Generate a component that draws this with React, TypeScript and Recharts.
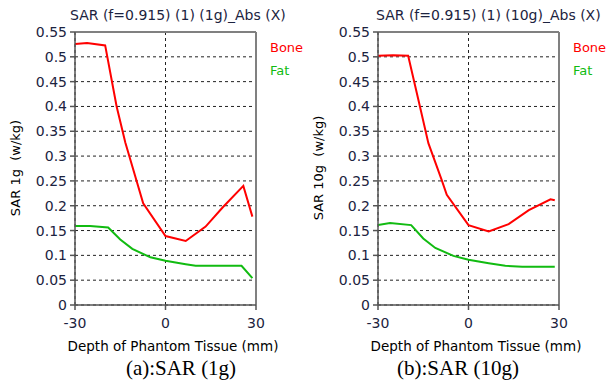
import { LineChart, Line, XAxis, YAxis, CartesianGrid, ReferenceLine, Legend } from "recharts";

// depth (mm) and SAR (w/kg)
const boneDepth1g = [-30, -26, -20, -16.2, -13.3, -7.4, 0, 6.7, 13.3, 19, 25.8, 28.8];
const bone1g = [0.526, 0.528, 0.523, 0.4, 0.327, 0.205, 0.139, 0.129, 0.158, 0.197, 0.24, 0.178];
const fatDepth1g = [-30, -25, -19, -15, -11, -5, 0, 6.7, 10, 25.2, 28.8];
const fat1g = [0.159, 0.159, 0.156, 0.132, 0.113, 0.096, 0.089, 0.082, 0.079, 0.079, 0.054];

const boneDepth10g = [-30, -25, -20, -16.1, -13.3, -8.9, -7.2, 0, 6.7, 13.3, 20, 27.2, 28.6];
const bone10g = [0.502, 0.503, 0.502, 0.4, 0.326, 0.252, 0.222, 0.161, 0.148, 0.163, 0.191, 0.213, 0.211];
const fatDepth10g = [-30, -26, -19, -15, -11, -5, 0, 6.7, 12.2, 17.8, 28.6];
const fat10g = [0.161, 0.165, 0.161, 0.134, 0.115, 0.099, 0.091, 0.084, 0.079, 0.077, 0.077];

const yTicks = [0, 0.05, 0.1, 0.15, 0.2, 0.25, 0.3, 0.35, 0.4, 0.45, 0.5, 0.55];
const xTicks = [-30, 0, 30];

const zip = (xs: number[], ys: number[]) => xs.map((x, i) => ({ depth: x, sar: ys[i] }));

const FONT = "'DejaVu Sans', Verdana, sans-serif";
const NAVY = "#1c2340";

function LegendBox(props: any) {
  const items = props.payload || [];
  return (
    <div style={{ fontFamily: FONT, fontSize: 13 }}>
      {items.map((it: any) => (
        <div key={it.value} style={{ color: it.color, lineHeight: "23px", whiteSpace: "nowrap" }}>
          {it.value}
        </div>
      ))}
    </div>
  );
}

function SarPanel({
  left,
  title,
  titleLeft,
  yLabel,
  bone,
  fat,
}: {
  left: number;
  title: string;
  titleLeft: number;
  yLabel: string;
  bone: { depth: number; sar: number }[];
  fat: { depth: number; sar: number }[];
}) {
  return (
    <div style={{ position: "absolute", left, top: 0, width: 303, height: 387, overflow: "hidden" }}>
      <div
        style={{
          position: "absolute",
          left: titleLeft,
          top: 6,
          fontFamily: FONT,
          fontSize: 14,
          lineHeight: "18px",
          color: NAVY,
          whiteSpace: "nowrap",
        }}
      >
        {title}
      </div>
      <div
        style={{
          position: "absolute",
          left: 15,
          top: 168,
          transform: "translate(-50%, -50%) rotate(-90deg)",
          fontFamily: FONT,
          fontSize: 13,
          color: "#000",
          whiteSpace: "pre",
        }}
      >
        {yLabel}
      </div>
      <div
        style={{
          position: "absolute",
          left: 173,
          top: 346,
          transform: "translate(-50%, -50%)",
          fontFamily: FONT,
          fontSize: 13.5,
          color: "#000",
          whiteSpace: "nowrap",
        }}
      >
        Depth of Phantom Tissue (mm)
      </div>
      <LineChart width={303} height={387} margin={{ top: 32, right: 47, left: 0, bottom: 42 }}>
        <CartesianGrid stroke="#222" strokeDasharray="3 3" />
        <XAxis
          dataKey="depth"
          type="number"
          domain={[-30, 30]}
          ticks={xTicks}
          height={40}
          tickSize={5}
          tickMargin={8}
          stroke="#555"
          strokeWidth={1.5}
          tick={{ fontSize: 14, fill: NAVY, fontFamily: FONT }}
          allowDataOverflow
        />
        <YAxis
          type="number"
          domain={[0, 0.55]}
          ticks={yTicks}
          width={75}
          tickSize={5}
          tickMargin={3}
          stroke="#555"
          strokeWidth={1.5}
          tick={{ fontSize: 14, fill: NAVY, fontFamily: FONT }}
          tickFormatter={(v: number) => String(v)}
        />
        <ReferenceLine y={0.55} stroke="#808080" strokeWidth={2} />
        <ReferenceLine x={30} stroke="#808080" strokeWidth={2} />
        <Legend
          layout="vertical"
          align="center"
          verticalAlign="middle"
          content={LegendBox}
          wrapperStyle={{ top: 36, left: 270, width: 60 }}
        />
        <Line
          data={bone}
          dataKey="sar"
          name="Bone"
          type="linear"
          stroke="#ff0000"
          strokeWidth={2}
          dot={false}
          isAnimationActive={false}
        />
        <Line
          data={fat}
          dataKey="sar"
          name="Fat"
          type="linear"
          stroke="#11bb11"
          strokeWidth={2}
          dot={false}
          isAnimationActive={false}
        />
      </LineChart>
    </div>
  );
}

export default function App() {
  return (
    <div style={{ position: "absolute", left: 0, top: 0, width: 606, height: 387, background: "#fff" }}>
      <SarPanel
        left={0}
        title="SAR (f=0.915) (1) (1g)_Abs (X)"
        titleLeft={70}
        yLabel="SAR 1g  (w/kg)"
        bone={zip(boneDepth1g, bone1g)}
        fat={zip(fatDepth1g, fat1g)}
      />
      <SarPanel
        left={303}
        title="SAR (f=0.915) (1) (10g)_Abs (X)"
        titleLeft={73}
        yLabel="SAR 10g  (w/kg)"
        bone={zip(boneDepth10g, bone10g)}
        fat={zip(fatDepth10g, fat10g)}
      />
      {[
        { text: "(a):SAR (1g)", x: 181 },
        { text: "(b):SAR (10g)", x: 458 },
      ].map((c) => (
        <div
          key={c.text}
          style={{
            position: "absolute",
            left: c.x,
            top: 368,
            transform: "translate(-50%, -50%)",
            fontFamily: "'Liberation Serif', 'Times New Roman', serif",
            fontSize: 21,
            color: "#000",
            whiteSpace: "nowrap",
          }}
        >
          {c.text}
        </div>
      ))}
    </div>
  );
}
